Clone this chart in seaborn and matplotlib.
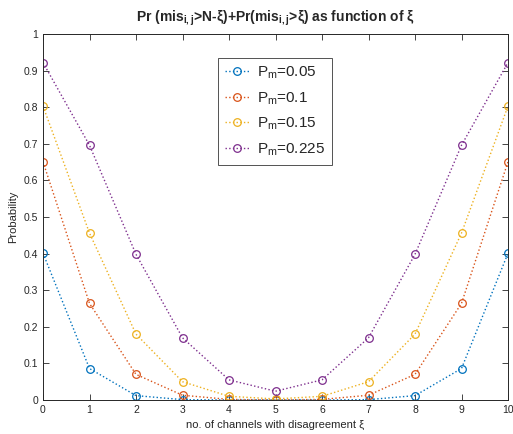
import numpy as np
import pandas as pd
import seaborn as sns
import matplotlib.pyplot as plt

# values
xi = list(range(11))
p005 = [0.401, 0.086, 0.012, 0.001, 0.0001, 0.0, 0.0001, 0.001, 0.012, 0.086, 0.401]
p010 = [0.651, 0.264, 0.070, 0.013, 0.0016, 0.0003, 0.0016, 0.013, 0.070, 0.264, 0.651]
p015 = [0.803, 0.456, 0.180, 0.050, 0.010, 0.003, 0.010, 0.050, 0.180, 0.456, 0.803]
p0225 = [0.922, 0.696, 0.398, 0.170, 0.055, 0.024, 0.055, 0.170, 0.398, 0.696, 0.922]
labels = ['$P_m$=0.05', '$P_m$=0.1', '$P_m$=0.15', '$P_m$=0.225']
colors = ['#0072BD', '#D95319', '#EDB120', '#7E2F8E']

sns.set_style('ticks')
plt.rcParams['font.family'] = ['Liberation Sans', 'DejaVu Sans']
plt.rcParams['mathtext.default'] = 'regular'

fig = plt.figure(figsize=(5.13, 4.34), dpi=100)
ax = fig.add_axes([43/513, 34/434, 465/513, 366/434])

for vals, lab, c in zip([p005, p010, p015, p0225], labels, colors):
    df = pd.DataFrame({'xi': xi, 'prob': vals})
    sns.lineplot(data=df, x='xi', y='prob', ax=ax, color=c, linestyle=':',
                 lw=1, marker='o', ms=5.5, mfc='none', mec=c, mew=0.9,
                 label=lab)

ax.set_xlim(0, 10)
ax.set_ylim(0, 1)
ax.set_xticks(range(0, 11))
ax.set_yticks(np.round(np.arange(0, 1.01, 0.1), 1))
ax.set_yticklabels(['0'] + ['%.1f' % v for v in np.arange(0.1, 0.95, 0.1)] + ['1'])
ax.tick_params(direction='in', top=True, right=True, labelsize=7.5,
               length=4, width=0.6, colors='#262626')
for s in ax.spines.values():
    s.set_linewidth(0.7)
    s.set_color('#262626')
ax.set_xlabel('no. of channels with disagreement ξ', fontsize=8, color='#262626')
ax.set_ylabel('Probability', fontsize=8, color='#262626')
ax.set_title('Pr (mis$_{i,j}$>N-ξ)+Pr(mis$_{i,j}$>ξ) as function of ξ',
             fontsize=10, fontweight='bold', pad=9)

leg = ax.legend(loc='upper left', bbox_to_anchor=(0.376, 0.935), fontsize=11,
                frameon=True, fancybox=False, edgecolor='#262626',
                labelspacing=0.6, handlelength=1.6, handletextpad=0.5,
                borderpad=0.45, borderaxespad=0)
leg.get_frame().set_linewidth(0.7)

plt.savefig('out.png', dpi=100)
